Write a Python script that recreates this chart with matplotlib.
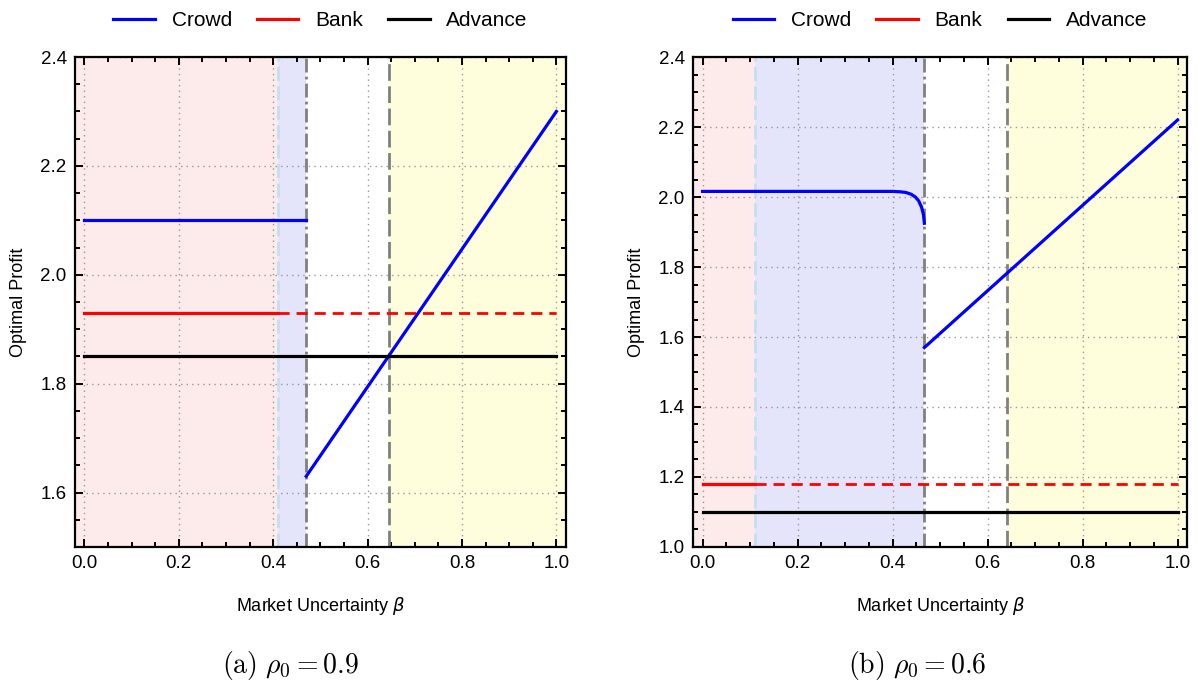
import matplotlib as mpl
mpl.use('Agg')
import matplotlib.pyplot as plt
from matplotlib.ticker import MultipleLocator

plt.rcParams['font.family'] = ['Liberation Sans', 'DejaVu Sans']

# ---- panel (a): rho0 = 0.9 ----
a_crowd1_x = [0.0, 0.47]
a_crowd1_y = [2.10, 2.10]
a_crowd2_x = [0.47, 1.0]
a_crowd2_y = [1.63, 2.30]
a_bank = 1.93
a_advance = 1.85
a_cuts = [0.41, 0.47, 0.645]   # pink|lavender, lavender|white, white|yellow

# ---- panel (b): rho0 = 0.6 ----
b_crowd1_x = [0.0, 0.40, 0.415, 0.428, 0.439, 0.448, 0.455, 0.461, 0.465, 0.467]
b_crowd1_y = [2.016, 2.016, 2.015, 2.013, 2.008, 2.000, 1.989, 1.971, 1.950, 1.925]
b_crowd2_x = [0.467, 1.0]
b_crowd2_y = [1.57, 2.22]
b_bank = 1.18
b_advance = 1.10
b_cuts = [0.11, 0.467, 0.64]

fig = plt.figure(figsize=(11.97, 6.87), dpi=100)
ax_a = fig.add_axes([0.0627, 0.2038, 0.410, 0.7132])
ax_b = fig.add_axes([0.579, 0.2038, 0.4127, 0.7132])


def draw_panel(ax, cx1, cy1, cx2, cy2, bank, adv, cuts, ylim, ymaj):
    c0, c1, c2 = cuts
    ax.set_xlim(-0.02, 1.02)
    ax.set_ylim(*ylim)
    ax.axvspan(-0.02, c0, color='#fdeaea', lw=0, zorder=0)
    ax.axvspan(c0, c1, color='#e4e4fb', lw=0, zorder=0)
    ax.axvspan(c2, 1.02, color='#fefedc', lw=0, zorder=0)
    ax.axvline(c0, color='#c6def0', lw=2, ls=(0, (5, 2)), zorder=1)
    ax.axvline(c1, color='#808080', lw=2, ls=(0, (5, 1.5, 1, 1.5)), zorder=1)
    ax.axvline(c2, color='#808080', lw=2, ls=(0, (6, 2)), zorder=1)

    ax.plot(cx1, cy1, color='#0000ff', lw=2.3, zorder=3, label='Crowd')
    ax.plot(cx2, cy2, color='#0000ff', lw=2.3, zorder=3)
    ax.plot([0, c0], [bank, bank], color='#ff0000', lw=2.3, zorder=3, label='Bank')
    ax.plot([c0, 1.0], [bank, bank], color='#ff0000', lw=2.0, ls=(0, (4, 2.5)), zorder=3)
    ax.plot([0, 1.0], [adv, adv], color='black', lw=2.3, zorder=3, label='Advance')

    ax.set_axisbelow(True)
    ax.grid(True, which='major', ls=(0, (1, 3)), color='#999999', lw=1)
    ax.xaxis.set_major_locator(MultipleLocator(0.2))
    ax.xaxis.set_minor_locator(MultipleLocator(0.05))
    ax.yaxis.set_major_locator(MultipleLocator(ymaj))
    ax.yaxis.set_minor_locator(MultipleLocator(0.05))
    ax.tick_params(which='both', direction='in', top=True, right=True, width=1.4,
                   labelsize=13.5, pad=6)
    ax.tick_params(which='major', length=6)
    ax.tick_params(which='minor', length=3.5)
    for s in ax.spines.values():
        s.set_linewidth(1.6)
    ax.set_xlabel(r'Market Uncertainty $\beta$', fontsize=13, labelpad=16)
    ax.set_ylabel('Optimal Profit', fontsize=13, labelpad=10)
    ax.legend(loc='lower center', bbox_to_anchor=(0.5, 1.012), ncol=3, frameon=False,
              fontsize=15, handlelength=2.0, columnspacing=1.2, handletextpad=0.8,
              borderaxespad=0.6)


draw_panel(ax_a, a_crowd1_x, a_crowd1_y, a_crowd2_x, a_crowd2_y,
           a_bank, a_advance, a_cuts, (1.5, 2.4), 0.2)
draw_panel(ax_b, b_crowd1_x, b_crowd1_y, b_crowd2_x, b_crowd2_y,
           b_bank, b_advance, b_cuts, (1.0, 2.4), 0.2)

fig.text(0.243, 0.02, r'$\mathrm{(a)}\ \rho_0 = 0.9$', ha='center', fontsize=20,
         math_fontfamily='cm')
fig.text(0.766, 0.02, r'$\mathrm{(b)}\ \rho_0 = 0.6$', ha='center', fontsize=20,
         math_fontfamily='cm')

fig.savefig('out.png', dpi=100)
